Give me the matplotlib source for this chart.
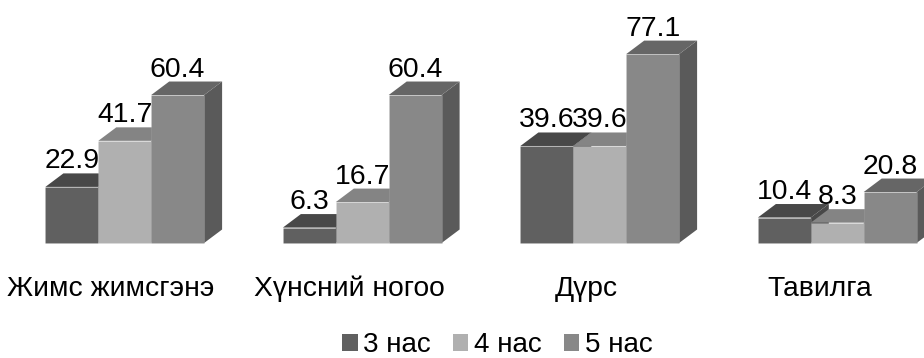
import matplotlib
matplotlib.use('Agg')
import matplotlib.pyplot as plt
from matplotlib.patches import Patch, Polygon

plt.rcParams['font.family'] = ['Liberation Sans', 'DejaVu Sans']

## Data
categories = ['Жимс жимсгэнэ', 'Хүнсний ногоо', 'Дүрс', 'Тавилга']
series_names = ['3 нас', '4 нас', '5 нас']
age3 = [22.9, 6.3, 39.6, 10.4]
age4 = [41.7, 16.7, 39.6, 8.3]
age5 = [60.4, 60.4, 77.1, 20.8]

## Colours: front, top, side
front_colors = ['#606060', '#b0b0b0', '#888888']
top_colors = ['#484848', '#848484', '#666666']
side_colors = ['#484848', '#808080', '#5a5a5a']

## Layout, in pixels of the 924x358 figure
W, H = 924, 358
px_per_group = 237.5
px_per_unit = 2.45
first_center = 124.75
baseline = 243
bar_px = 52.9
depth_x_px, depth_y_px = 18, 13.5
label_px = [111, 349.5, 586.5, 820]

fig = plt.figure(figsize=(W / 100, H / 100), dpi=100)
ax = fig.add_axes([0, 0, 1, 1])
ax.set_xlim(-first_center / px_per_group, (W - first_center) / px_per_group)
ax.set_ylim(-(H - baseline) / px_per_unit, baseline / px_per_unit)
ax.axis('off')

bw = bar_px / px_per_group
dx = depth_x_px / px_per_group
dy = depth_y_px / px_per_unit

## Bars, drawn as boxes: side, top, front
for s, values in enumerate([age3, age4, age5]):
    for g, v in enumerate(values):
        x0 = g + (s - 1.5) * bw
        x1 = x0 + bw
        ax.add_patch(Polygon([(x1, 0), (x1 + dx, dy), (x1 + dx, v + dy), (x1, v)],
                             facecolor=side_colors[s], edgecolor='none', zorder=2 + s))
        ax.add_patch(Polygon([(x0, v), (x0 + dx, v + dy), (x1 + dx, v + dy), (x1, v)],
                             facecolor=top_colors[s], edgecolor='none', zorder=2 + s))
        ax.bar(x0, v, width=bw, align='edge', color=front_colors[s], zorder=2 + s,
               edgecolor=(1, 1, 1, 0.08), linewidth=0.7)
        ax.annotate(f'{v}', (x0 + bw / 2, v), xytext=(0, 18.5 * 0.72), textcoords='offset points',
                    ha='center', va='baseline', fontsize=20.4, color='black', zorder=10)

## Category labels
for name, px in zip(categories, label_px):
    ax.text((px - first_center) / px_per_group, (baseline - 296.5) / px_per_unit, name,
            ha='center', va='baseline', fontsize=20.3, color='black')

## Legend
handles = [Patch(facecolor=c, edgecolor='none') for c in front_colors]
fig.legend(handles, series_names, loc='center', bbox_to_anchor=(497.5 / W, 1 - 345 / H),
           ncol=3, frameon=False, fontsize=20, handlelength=0.55, handleheight=0.55,
           handletextpad=0.2, columnspacing=0.8, borderpad=0, borderaxespad=0)

fig.savefig('out.png', dpi=100)
